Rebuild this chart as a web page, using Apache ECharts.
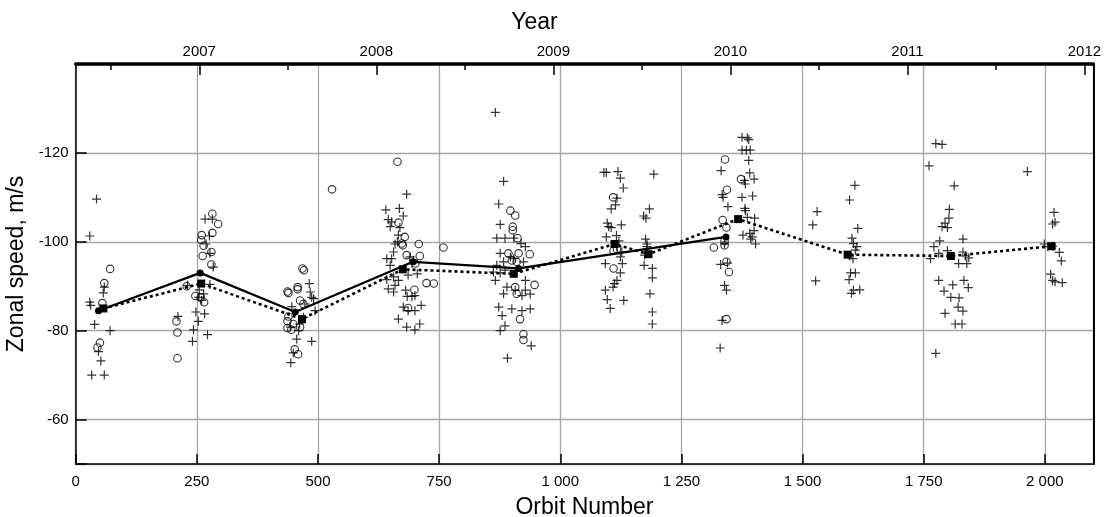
<!DOCTYPE html>
<html>
<head>
<meta charset="utf-8">
<script src="https://cdn.jsdelivr.net/npm/echarts@6/dist/echarts.min.js"></script>
<style>
html,body{margin:0;padding:0;background:#fff;}
#chart{width:1105px;height:517px;}
</style>
</head>
<body>
<div id="chart"></div>
<script>
// ---- data (orbit number, zonal speed m/s) ----
const crossPoints = [
 [43,-109.6],[29,-101.3],[59,-89.8],[57,-88.5],[29,-86.4],[31,-85.7],[39,-81.4],[71,-80],[47,-75.3],[52,-73.2],[33,-70],[59,-70],
 [211,-83.2],[243,-80.2],[241,-77.6],[272,-79.1],[248,-84.2],[266,-83.8],[253,-82.1],[267,-105.1],[282,-105.1],[276,-101.3],[269,-99.5],[277,-97.4],[284,-94.3],[231,-90.2],[277,-90.4],[255,-89.2],[264,-88.3],[254,-87.5],[260,-86.8],
 [482,-90.6],[484,-88.7],[487,-87.5],[491,-87.2],[446,-85.4],[473,-86],[494,-84.5],[443,-80.8],[460,-80],[456,-78.1],[487,-77.6],[449,-75],[444,-72.8],[470,-83],[462,-81.5],
 [683,-110.7],[640,-107.2],[668,-107.5],[676,-105.8],[645,-105],[652,-104.5],[649,-103.4],[669,-103.2],[666,-101.5],[664,-100],[659,-99.5],[656,-97.7],[652,-96.2],[642,-96.2],[649,-94.7],[690,-96.6],[697,-95.8],[694,-95.1],[705,-92.8],[686,-92.5],[642,-91.5],[656,-92.1],[666,-91.3],[659,-90.2],[645,-89.4],[656,-88.7],[681,-89.1],[694,-87.7],[684,-87.7],[700,-87.9],[713,-85.7],[676,-85.3],[686,-84.5],[700,-84.5],[666,-82.6],[683,-80.8],[700,-80.2],[710,-81.5],
 [866,-129.1],[883,-113.6],[873,-108.5],[876,-103.9],[869,-100.8],[886,-100.8],[904,-100.8],[919,-99.6],[928,-98.9],[876,-97.4],[897,-96.6],[904,-96.2],[883,-95.5],[924,-95.5],[869,-94.7],[886,-93.6],[862,-93.2],[876,-93],[866,-91.3],[928,-91.3],[890,-89.8],[907,-89.1],[928,-89.1],[883,-88.3],[921,-87.9],[938,-88.2],[873,-85.3],[880,-83.4],[900,-84.9],[921,-84.5],[938,-84.9],[886,-81.1],[876,-80],[940,-76.6],[891,-73.8],
 [1090,-115.6],[1095,-115.6],[1119,-115.8],[1124,-114.3],[1130,-112.1],[1117,-109.8],[1114,-108.3],[1105,-107.4],[1097,-104.2],[1100,-103.4],[1126,-103.8],[1105,-103.2],[1095,-101.1],[1116,-101.4],[1121,-100.2],[1117,-98.9],[1127,-97.7],[1124,-96.6],[1093,-95.1],[1128,-95.1],[1124,-93],[1117,-91.3],[1112,-90.6],[1109,-89.8],[1093,-89.1],[1097,-87],[1103,-85],[1131,-86.8],
 [1193,-115.2],[1184,-107.4],[1172,-105.8],[1177,-105.3],[1176,-100.6],[1179,-99.5],[1179,-98.9],[1174,-97],[1173,-94.7],[1190,-94],[1190,-91.9],[1185,-88.3],[1190,-84.2],[1190,-81.5],
 [1375,-123.5],[1386,-123.4],[1389,-123],[1375,-120.6],[1384,-120.6],[1392,-120.6],[1389,-118.3],[1332,-116],[1391,-115.5],[1380,-113.8],[1400,-114.1],[1382,-113],[1334,-110.6],[1336,-110],[1375,-110],[1397,-110.3],[1346,-107.9],[1381,-107.5],[1382,-107],[1386,-105.5],[1401,-105.3],[1400,-102.5],[1391,-101.9],[1377,-101.5],[1396,-101.1],[1393,-100.6],[1403,-99.5],[1339,-99.6],[1331,-94.9],[1345,-95.2],[1339,-90.2],[1343,-89.1],[1334,-82.3],[1330,-76.1],
 [1530,-106.8],[1521,-103.8],[1527,-91.2],[1608,-112.7],[1597,-109.4],[1614,-103],[1602,-100.8],[1605,-99.6],[1612,-98.9],[1609,-98.1],[1597,-96.8],[1604,-96.2],[1599,-93],[1609,-93],[1596,-91.5],[1618,-89.2],[1605,-89.1],[1601,-88.4],
 [1775,-122.1],[1788,-121.9],[1761,-117.1],[1813,-112.6],[1964,-115.8],[1803,-107.3],[1802,-105.3],[1794,-104.2],[1788,-103.4],[1799,-103.2],[1831,-100.6],[1783,-100.2],[1771,-98.9],[1781,-97.4],[1764,-96.2],[1799,-98],[1831,-97.7],[1836,-96.8],[1843,-96.4],[1822,-95.1],[1839,-95.1],[1781,-91.3],[1810,-90.3],[1833,-91.3],[1842,-89.7],[1792,-88.9],[1806,-87.5],[1823,-87.4],[1821,-85.3],[1831,-84.4],[1794,-83.9],[1815,-81.5],[1829,-81.5],[1775,-74.9],
 [2019,-106.6],[2016,-104],[2021,-104.4],[1999,-99.5],[2006,-98.9],[2016,-99],[2030,-97.6],[2034,-95.7],[2012,-92.7],[2016,-91.3],[2021,-91],[2036,-90.8]
];
const circlePoints = [
 [59,-90.7],[55,-86.2],[71,-93.9],[50,-77.3],[45,-76.2],
 [208,-82.1],[210,-79.6],[210,-73.8],[282,-106.3],[294,-104],[260,-101.5],[259,-100.4],[282,-102],[264,-99.1],[280,-97.7],[262,-96.8],[280,-94.9],[229,-90],[247,-87.8],[258,-87.5],[265,-86.4],
 [468,-94],[471,-93.6],[437,-88.8],[439,-88.5],[458,-89.8],[458,-89.3],[463,-86.8],[470,-86],[439,-83.2],[437,-82.1],[449,-81.5],[463,-80.8],[445,-80.2],[437,-80.6],[452,-75.8],[459,-74.7],[529,-111.8],
 [664,-118],[666,-104.3],[679,-101.1],[673,-99.6],[675,-99.2],[708,-99.5],[683,-97],[710,-96.8],[701,-95.1],[759,-98.7],[724,-90.7],[739,-90.6],[699,-89.2],[686,-85.1],
 [897,-107],[907,-105.9],[902,-103.4],[902,-102.6],[912,-100.8],[893,-97.4],[914,-97.4],[937,-97.2],[900,-95.8],[910,-95.5],[947,-90.3],[907,-89.8],[910,-88.3],[917,-82.6],[924,-79.2],[924,-77.9],
 [1109,-110],[1117,-98.3],[1110,-98],[1110,-94],
 [1340,-118.5],[1373,-114.1],[1344,-111.7],[1335,-104.9],[1343,-103.2],[1339,-100.2],[1339,-99.2],[1317,-98.7],[1343,-95.5],[1348,-93.2],[1343,-82.6]
];
const solidMeans = [[47,-84.5],[257,-93],[453,-84.2],[696,-95.5],[914,-94],[1342,-101.1]];
const dottedMeans = [[57,-85],[259,-90.6],[467,-82.6],[675,-93.8],[904,-92.8],[1112,-99.5],[1182,-97.2],[1367,-105.1],[1593,-97.1],[1806,-96.8],[2014,-99]];

// year ticks on the top axis expressed as orbit numbers
const yearLabels = [2007, 2008, 2009, 2010, 2011, 2012];
const yearOrbit0 = 255;      // orbit at start of 2007
const orbitsPerYear = 365.35;

const FONT = 'Liberation Sans, Arial, Helvetica, sans-serif';
const yearTicks = yearLabels.map((y) => yearOrbit0 + (y - 2007) * orbitsPerYear);
const halfYearTicks = yearLabels.map((y) => yearOrbit0 + (y - 2007 - 0.5) * orbitsPerYear).filter(v => v > 0 && v < 2100);

function orbitFmt(v) {
  if (v >= 1000) return Math.floor(v / 1000) + ' ' + String(v % 1000).padStart(3, '0');
  return String(v);
}

const chart = echarts.init(document.getElementById('chart'), null, {renderer: 'canvas'});
const gridColor = '#a6a6a6';
chart.setOption({
  animation: false,
  backgroundColor: '#ffffff',
  textStyle: {fontFamily: FONT},
  grid: {left: 75.7, right: 11.7, top: 64, bottom: 53, containLabel: false, outerBoundsMode: 'none'},
  xAxis: [
    {
      type: 'value', position: 'bottom', min: 0, max: 2100, interval: 250,
      name: 'Orbit Number', nameLocation: 'middle', nameGap: 32,
      nameTextStyle: {fontSize: 23, color: '#000', fontFamily: FONT},
      axisLine: {show: true, onZero: false, lineStyle: {color: '#000', width: 1.5}},
      axisTick: {show: true, inside: true, length: 10, lineStyle: {color: '#000', width: 1.5}},
      axisLabel: {fontSize: 15, color: '#000', margin: 10, fontFamily: FONT, showMaxLabel: false,
        formatter: (v) => (v > 2000 ? '' : orbitFmt(v))},
      splitLine: {show: true, lineStyle: {color: gridColor, width: 1.3}}
    },
    {
      type: 'value', position: 'top', min: 0, max: 2100,
      name: 'Year', nameLocation: 'middle', nameGap: 30,
      nameTextStyle: {fontSize: 23, color: '#000', fontFamily: FONT, padding: [0, 100, 0, 0]},
      axisLine: {show: true, onZero: false, lineStyle: {color: '#000', width: 3.5}},
      axisTick: {show: true, inside: true, length: 11, customValues: yearTicks, lineStyle: {color: '#000', width: 1.5}},
      axisLabel: {show: true, customValues: yearTicks, fontSize: 15, color: '#000', margin: 5, fontFamily: FONT,
        formatter: (v) => String(Math.round(2007 + (v - yearOrbit0) / orbitsPerYear))},
      splitLine: {show: false}
    },
    {
      type: 'value', position: 'top', min: 0, max: 2100,
      axisLine: {show: false, onZero: false},
      axisTick: {show: true, inside: true, length: 6, customValues: halfYearTicks, lineStyle: {color: '#000', width: 1.5}},
      axisLabel: {show: false},
      splitLine: {show: false}
    }
  ],
  yAxis: [
    {
      type: 'value', position: 'left', min: -140, max: -50, interval: 20, inverse: true,
      name: 'Zonal speed, m/s', nameLocation: 'middle', nameGap: 42,
      nameTextStyle: {fontSize: 23, color: '#000', fontFamily: FONT},
      axisLine: {show: true, onZero: false, lineStyle: {color: '#000', width: 1.5}},
      axisTick: {show: true, inside: true, length: 11, lineStyle: {color: '#000', width: 1.5}},
      axisLabel: {fontSize: 15, color: '#000', margin: 7, fontFamily: FONT,
        formatter: (v) => (v === -140 || v === -50 ? '' : String(v))},
      splitLine: {show: true, lineStyle: {color: gridColor, width: 1.3}}
    },
    {
      type: 'value', position: 'right', min: -140, max: -50, inverse: true,
      axisLine: {show: true, onZero: false, lineStyle: {color: '#000', width: 2}},
      axisTick: {show: false}, axisLabel: {show: false}, splitLine: {show: false}
    }
  ],
  series: [
    {
      type: 'scatter', xAxisIndex: 0, yAxisIndex: 0, data: crossPoints,
      symbol: 'path://M0,5L10,5M5,0L5,10', symbolSize: 9,
      itemStyle: {color: 'rgba(0,0,0,0)', borderColor: '#000', borderWidth: 1.2},
      z: 3
    },
    {
      type: 'scatter', xAxisIndex: 0, yAxisIndex: 0, data: circlePoints,
      symbol: 'circle', symbolSize: 7.5,
      itemStyle: {color: 'rgba(0,0,0,0)', borderColor: '#000', borderWidth: 1.1},
      z: 3
    },
    {
      type: 'line', xAxisIndex: 0, yAxisIndex: 0, data: dottedMeans,
      symbol: 'rect', symbolSize: 8, showSymbol: true,
      itemStyle: {color: '#000'},
      lineStyle: {color: '#000', width: 2.6, type: [3, 3], cap: 'butt'},
      z: 4
    },
    {
      type: 'line', xAxisIndex: 0, yAxisIndex: 0, data: solidMeans,
      symbol: 'circle', symbolSize: 7, showSymbol: true,
      itemStyle: {color: '#000'},
      lineStyle: {color: '#000', width: 2.2},
      z: 5
    }
  ]
});
</script>
</body>
</html>
